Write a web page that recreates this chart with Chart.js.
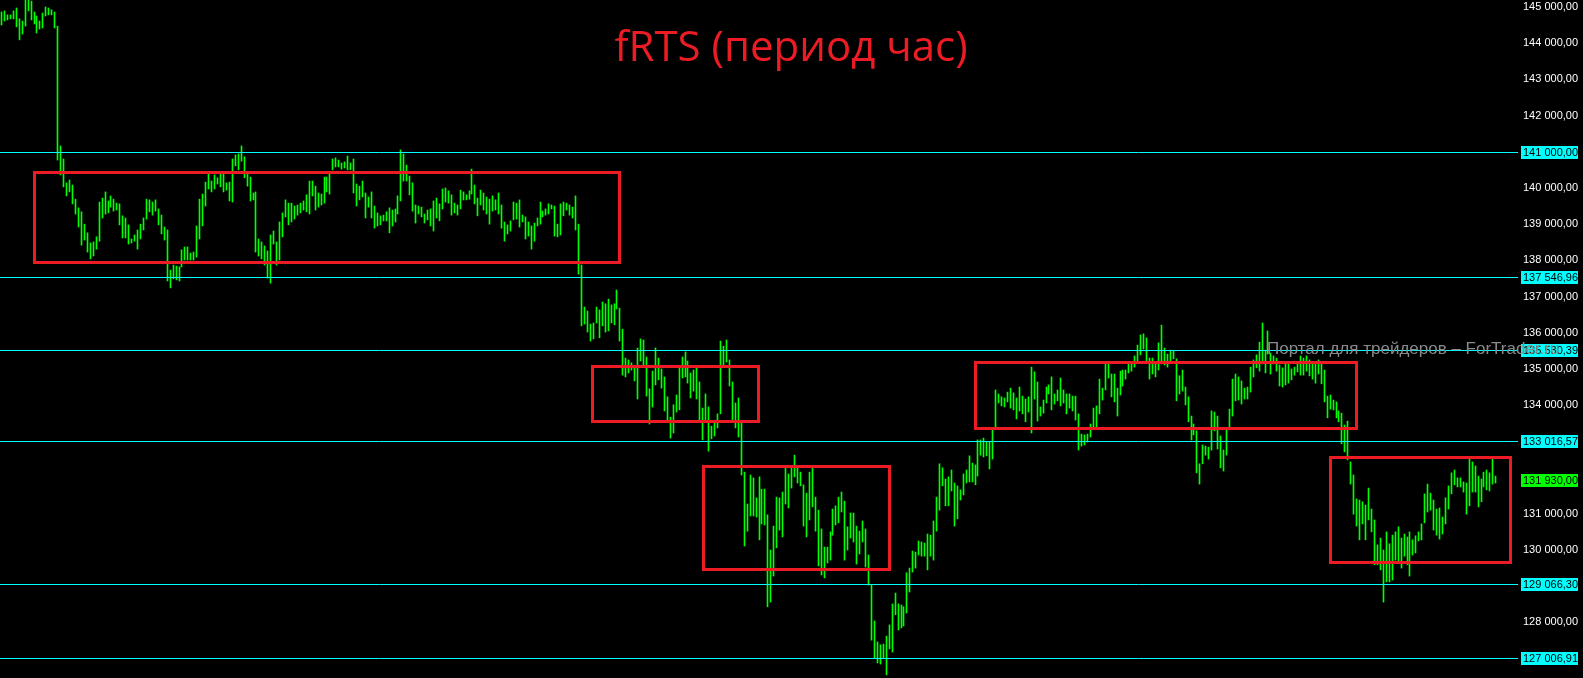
<!DOCTYPE html>
<html><head><meta charset="utf-8">
<script src="https://cdn.jsdelivr.net/npm/chart.js@4/dist/chart.umd.min.js"></script>
<style>html,body{margin:0;padding:0;background:#000;overflow:hidden}#wrap{width:1583px;height:678px;position:relative}</style>
</head><body><div id="wrap"><canvas id="c" width="1583" height="678"></canvas></div>
<script>
const titleText = 'fRTS (период час)';
const watermarkText = 'Портал для трейдеров – ForTrader.ru';

const high = [
144860,144890,144780,144780,144890,144970,144670,144610,145190,145190,
145160,144860,144750,144610,144830,145000,144970,144920,144860,144470,
141160,140800,140140,140220,140080,139690,139450,139340,139000,138760,
138480,138510,138650,139610,139720,139890,139640,139780,139690,139580,
139560,139230,139170,138980,138590,138700,138840,139000,139170,139690,
139670,139610,139670,139420,139250,138920,138840,137730,137870,137840,
137820,138290,138370,138370,138200,138230,138950,139690,139830,140160,
140410,140190,140360,140280,140390,140410,140140,140160,140800,140910,
140940,141160,140860,140410,140300,139860,139890,138590,138510,138400,
138260,138700,138810,138510,139060,139310,139670,139580,139580,139500,
139530,139580,139640,139810,140190,140190,140050,139860,139830,140300,
140300,140410,140800,140830,140770,140690,140720,140880,140690,140800,
140110,140050,140190,139860,139750,139890,139500,139310,139230,139250,
139340,139450,139390,139420,139780,141050,140940,140630,140330,140140,
139530,139500,139470,139280,139390,139420,139640,139720,139560,139970,
140000,139920,139810,139580,139530,139940,139890,139810,139920,140520,
140080,139720,139940,139860,139750,139690,139780,139670,139860,139530,
139060,138980,139090,139610,139580,139670,139250,139200,139060,138950,
139030,139170,139610,139360,139420,139560,139530,139500,139000,139560,
139610,139580,139530,139470,139780,139000,137870,136710,136600,136240,
136270,136710,136630,136850,136800,136930,136770,136800,137180,136680,
136100,135300,135250,135170,135080,135580,135830,135800,135330,134450,
134940,135580,135300,135000,134780,134230,133670,134010,134280,135050,
135330,135470,135220,134890,134970,135030,134640,133920,134310,133950,
133420,133510,133760,135770,135630,135800,135250,134640,134060,134200,
133540,132150,131270,132070,131990,131440,132020,131680,131680,130970,
130000,130660,131460,131440,131600,132290,132100,132270,132620,132290,
132150,131800,131570,132150,132290,131460,131100,130580,130080,130080,
130500,131130,131220,131460,131600,131350,130640,131020,131020,130660,
130520,130800,130580,129860,129030,128040,127460,127380,127400,127620,
127930,128510,128810,128510,128480,128430,129370,129500,129970,129940,
130250,130220,130190,130440,130410,130800,131460,132380,132270,131960,
132020,132210,131850,131770,131660,132100,132210,132600,132400,132350,
133040,133040,133090,132980,132980,133310,134420,134310,134230,134200,
134360,134470,134340,134200,134500,134250,134170,134230,135050,134920,
134640,133950,134140,134500,134560,134780,134310,134420,134750,134420,
134310,134310,134250,134250,133760,133200,133180,133200,133480,133920,
133980,134720,134470,135140,135140,134860,134860,134470,134940,134970,
134970,135140,135140,135360,135660,135940,135970,135860,135300,135300,
135170,135720,136210,135580,135410,135520,135500,135280,134810,134970,
134500,134230,133700,133480,133290,132380,132900,132870,132840,133840,
133810,133700,133150,132760,133370,133890,134720,134860,134780,134670,
134470,134500,135050,135250,135390,135740,136270,135520,136050,135440,
135360,135300,135110,135030,135140,135140,135000,135050,135170,135360,
135300,135360,135250,135170,135170,135250,135140,134970,134250,134280,
134140,134090,133840,133780,133450,133560,132430,132070,131410,131380,
131330,131240,131710,131130,130830,130140,130330,130000,130500,130170,
130410,130500,130640,130330,130440,130360,130500,130280,130390,130500,
130720,131550,131820,131570,131380,131130,131160,130910,131440,131770,
132130,132210,131990,131990,131880,131850,132510,132430,132320,132040,
131960,132150,132210,132130,132540,132040
];

const low = [
144500,144610,144640,144670,144670,144450,144090,144250,144470,144890,
144640,144530,144280,144390,144420,144750,144780,144780,144420,140770,
140360,140030,139780,139890,139560,139280,138920,138420,138560,138230,
138040,138120,138310,138530,139170,139280,139310,139470,139360,139390,
138980,138620,138620,138450,138480,138530,138310,138590,138840,139140,
139340,139250,139360,138980,138730,138560,137430,137240,137490,137460,
137430,137820,138010,138010,138010,138010,138090,138590,138950,139500,
139970,139890,139970,140110,140030,139890,139940,139640,139610,140610,
140500,140740,140280,140050,139640,139670,138230,138120,138040,137870,
137510,137370,138450,137870,138010,138650,139200,138980,139060,139140,
139250,139310,139390,139340,139280,139780,139390,139470,139530,139580,
139890,139830,140500,140580,140580,140520,140550,140500,140500,139860,
139500,139670,139750,139170,139470,139170,138890,138950,138980,139090,
139090,138760,138950,139060,139280,139640,140190,140190,139810,139360,
139030,139280,139200,139030,139120,138950,138810,139170,139090,139420,
139610,139580,139250,139310,139250,139420,139670,139670,139690,139830,
139560,139230,139530,139390,139280,139000,139360,139390,139280,138890,
138530,138730,138810,139120,139140,138920,139060,138590,138670,138310,
138530,138950,139000,139200,139250,139280,139420,138670,138650,138700,
139230,139390,139250,139170,138840,137620,136190,136240,136020,135770,
135830,136270,135860,136190,136020,136050,136270,136220,136660,135770,
134830,134780,134890,134970,134670,134170,135220,135110,134250,133480,
133950,134560,134700,134470,133840,133590,133090,133230,133810,133870,
134750,134780,134610,134200,134390,134170,133590,133040,133560,132730,
133070,133150,133370,133760,135080,135190,134530,133590,133370,133120,
132070,130110,130520,130940,130940,130910,130280,130720,130690,128430,
128560,129280,130060,130550,130360,131270,131160,131710,132020,131850,
131770,130660,130360,130830,131190,130520,129560,129310,129230,129640,
129720,130410,130690,130750,131050,129720,130000,130330,130220,129610,
129890,130220,129530,129030,127510,127020,126880,126850,127020,126550,
127270,127180,128210,127790,127850,127900,128260,128840,129390,129500,
129860,129830,129830,129450,129830,129720,130520,131100,131770,131220,
131220,131630,130660,130860,131380,131520,131850,131880,131880,131800,
132040,132620,132570,132600,132240,132510,133400,134060,133980,133950,
134090,133920,133870,133620,133840,133760,133540,133810,133230,134170,
133560,133700,133780,134060,134310,133870,134030,134120,133980,134060,
133760,133920,133840,133590,132760,132870,132900,132980,133120,133400,
133400,133760,134140,134420,134750,134230,134090,133700,134280,134530,
134720,134890,134940,135050,135170,135390,135550,135220,134720,134860,
134780,134970,135140,135110,135050,135220,135280,134120,134310,134390,
134010,133540,133040,133180,132130,131820,132380,132620,132510,132760,
133290,132790,132270,132180,132620,133400,133700,134120,134140,134030,
134170,134170,134360,134780,135030,134940,135140,134890,135410,134860,
135140,134940,134530,134500,134560,134610,134700,134830,134920,134830,
134830,134940,134810,134720,134610,134860,134590,134090,133650,133890,
133870,133650,133540,132930,132710,132490,131820,130990,130660,130280,
130720,130280,130830,130500,129590,129590,129450,128560,129120,129120,
129170,129720,129700,129500,129830,129590,129280,129860,129920,130250,
130280,130750,131050,131100,130550,130410,130300,130440,130720,131130,
131550,131800,131740,131740,131600,130990,131220,131600,131600,131190,
131330,131740,131660,131630,131820,131850
];

// empty bar slots to the right of the last bar (chart shift)
const emptySlots = 7;

// horizontal levels (cyan) and current price
const levelLines = [141000.00, 137546.96, 135530.39, 133016.57, 129066.30, 127006.91];
const lastPrice = 131930.00;

// price axis labels that are visible
const tickValues = [145000,144000,143000,142000,140000,139000,138000,137000,136000,135000,134000,131000,130000,128000];

// red zones: [first bar index, last bar index, upper price, lower price]
const zones = [
  [10.9, 208.7, 140450, 137970],
  [199.7, 255.8, 135070, 133550],
  [237.2, 300.1, 132330, 129490],
  [329.1, 457.8, 135180, 133360],
  [449.1, 509.9, 132580, 129680]
];

const yMin = 126464, yMax = 145191;

function fmt(v){
  const s = Number(v).toFixed(2);
  const p = s.split('.');
  return p[0].replace(/\B(?=(\d{3})+(?!\d))/g, ' ') + ',' + p[1];
}

const labels = [];
for (let i = 0; i < high.length + emptySlots; i++) labels.push(String(i + 1));
const bars = high.map((h, i) => [low[i], h]);

const RED = '#ed1c24', CYAN = '#00ffff', GREEN = '#00ff00';

const decor = {
  id: 'decor',
  beforeDraw(chart){
    const c = chart.ctx;
    c.save(); c.fillStyle = '#000'; c.fillRect(0, 0, chart.width, chart.height); c.restore();
  },
  beforeDatasetsDraw(chart){
    const meta = chart.getDatasetMeta(0);
    meta.data.forEach(el => { el.x = Math.floor(el.x) + 0.5; });
  },
  afterDatasetsDraw(chart){
    const c = chart.ctx, a = chart.chartArea, xs = chart.scales.x, ys = chart.scales.y;
    c.save();
    // level lines
    c.strokeStyle = CYAN; c.lineWidth = 1;
    levelLines.forEach(v => {
      const y = Math.round(ys.getPixelForValue(v)) + 0.5;
      c.beginPath(); c.moveTo(a.left, y); c.lineTo(a.right, y); c.stroke();
    });
    // zones
    c.strokeStyle = RED; c.lineWidth = 3;
    zones.forEach(z => {
      const x0 = xs.getPixelForValue(z[0]), x1 = xs.getPixelForValue(z[1]);
      const y0 = ys.getPixelForValue(z[2]), y1 = ys.getPixelForValue(z[3]);
      c.strokeRect(Math.round(x0) + 0.5, Math.round(y0) + 0.5, Math.round(x1 - x0), Math.round(y1 - y0));
    });
    // title
    c.fillStyle = RED;
    c.font = '42px "Open Sans"';
    c.textAlign = 'center'; c.textBaseline = 'alphabetic';
    c.fillText(titleText, 791, 61);
    c.restore();
  },
  afterDraw(chart){
    const c = chart.ctx, a = chart.chartArea, ys = chart.scales.y;
    c.save();
    c.font = '11px "Liberation Sans"';
    c.textBaseline = 'middle'; c.textAlign = 'left';
    const drawLabel = (v, bg) => {
      const y = ys.getPixelForValue(v);
      c.fillStyle = bg;
      c.fillRect(a.right + 3, Math.round(y) - 6, 57, 13);
      c.fillStyle = '#000';
      c.fillText(fmt(v), a.right + 5, Math.round(y) + 0.5);
    };
    levelLines.forEach(v => drawLabel(v, CYAN));
    drawLabel(lastPrice, GREEN);
    // watermark
    c.fillStyle = '#8a8a8a';
    c.font = '17px "Liberation Sans"';
    c.textBaseline = 'middle';
    c.fillText(watermarkText, 1267, 349);
    c.restore();
  }
};

new Chart(document.getElementById('c'), {
  type: 'bar',
  data: {
    labels: labels,
    datasets: [{
      data: bars,
      backgroundColor: GREEN,
      borderWidth: 0,
      barThickness: 1,
      borderSkipped: false
    }]
  },
  options: {
    responsive: false,
    animation: false,
    devicePixelRatio: 1,
    layout: { padding: 0 },
    plugins: { legend: { display: false }, tooltip: { enabled: false }, title: { display: false } },
    scales: {
      x: { display: false, offset: true, grid: { display: false } },
      y: {
        position: 'right',
        min: yMin, max: yMax,
        grid: { display: false, drawTicks: false },
        border: { display: false },
        afterBuildTicks: s => { s.ticks = tickValues.map(v => ({ value: v })); },
        afterFit: s => { s.width = 65; s.paddingTop = 0; s.paddingBottom = 0; },
        ticks: {
          color: '#ffffff',
          font: { family: 'Liberation Sans', size: 11 },
          padding: 5,
          autoSkip: false,
          callback: v => fmt(v)
        }
      }
    }
  },
  plugins: [decor]
});
</script>
</body></html>
